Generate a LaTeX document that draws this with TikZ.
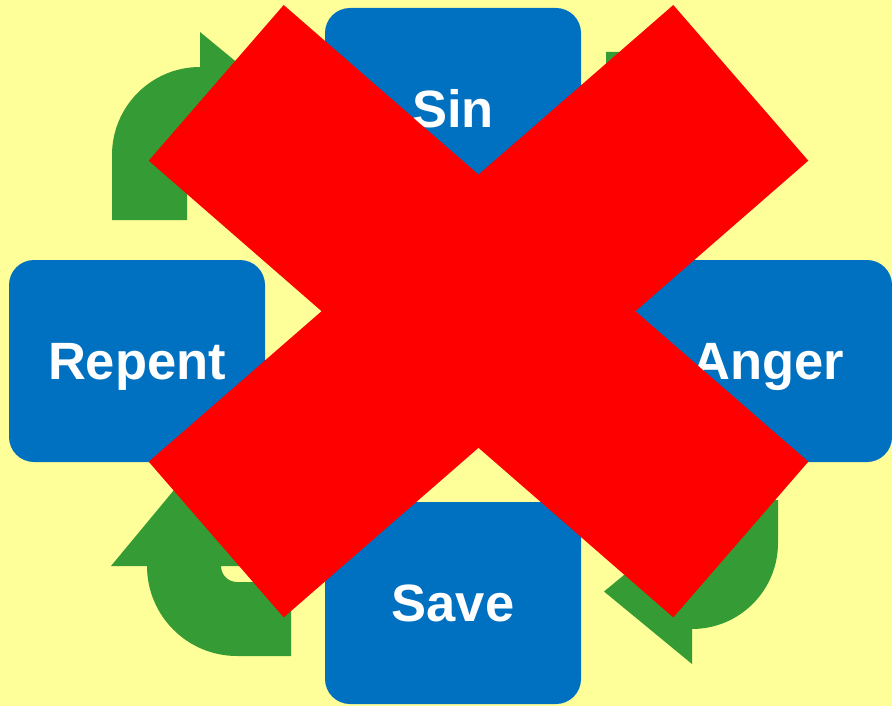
\documentclass[tikz,border=0pt]{standalone}
\usepackage{fontspec}
\setmainfont{Liberation Sans}
\definecolor{bgyellow}{HTML}{FFFF99}
\definecolor{boxblue}{HTML}{0070C0}
\definecolor{arrowgreen}{HTML}{359B35}
\definecolor{xred}{HTML}{FF0000}
\begin{document}
\begin{tikzpicture}[x=1pt,y=-1pt,
  box/.style={rectangle, rounded corners=25pt, fill=boxblue, text=white,
    minimum width=256pt, minimum height=202pt, inner sep=0pt,
    font=\fontsize{52.5}{60}\selectfont\bfseries, text height=37.5pt, text depth=0pt},
  bentarrow/.style={fill=arrowgreen},
  crossarm/.style={fill=xred}]
\fill[bgyellow] (0,0) rectangle (892,706);
\useasboundingbox (0,0) rectangle (892,706);

% green bent arrows
\path[bentarrow] (112,220) -- (112,155) arc[start angle=180,end angle=90,radius=88pt]
  -- (200,32) -- (288,104.5) -- (200,177) -- (200,142)
  arc[start angle=90,end angle=180,radius=13pt] -- (187,220) -- cycle;
\path[bentarrow] (606,52) -- (663,52) arc[start angle=90,end angle=0,radius=90pt]
  -- (789,142) -- (716,230) -- (643,142) -- (679,142)
  arc[start angle=0,end angle=90,radius=16pt] -- (606,126) -- cycle;
\path[bentarrow] (778,500) -- (778,543) arc[start angle=0,end angle=-90,radius=86pt]
  -- (692,664) -- (604,591.5) -- (692,519) -- (692,554)
  arc[start angle=-90,end angle=0,radius=11pt] -- (703,500) -- cycle;
\path[bentarrow] (291,656) -- (237,656) arc[start angle=-90,end angle=-180,radius=90pt]
  -- (111,566) -- (184,478) -- (257,566) -- (221,566)
  arc[start angle=180,end angle=270,radius=16pt] -- (291,582) -- cycle;

% boxes
\node[box] (sin) at (453,109) {Sin};
\node[box] (repent) at (137,361) {Repent};
\node[box] (anger) at (764,361) {\hspace*{8pt}Anger};
\node[box] (save) at (453,603) {Save};

% red cross
\path[crossarm] (283.7,5) -- (808.3,461.7) -- (673.3,617.4) -- (148.7,160.7) -- cycle;
\path[crossarm] (673.3,5) -- (808.3,160.7) -- (283.7,617.4) -- (148.7,461.7) -- cycle;
\end{tikzpicture}
\end{document}
